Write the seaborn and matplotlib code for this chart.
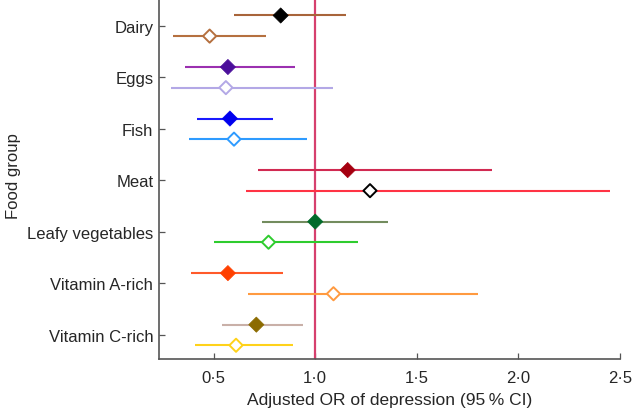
import seaborn as sns
import matplotlib.pyplot as plt
import pandas as pd
import numpy as np

# DATA
groups = ['Dairy', 'Eggs', 'Fish', 'Meat', 'Leafy vegetables', 'Vitamin A-rich', 'Vitamin C-rich']

# filled diamonds (upper row of each group)
or_filled = [0.83, 0.57, 0.58, 1.16, 1.00, 0.57, 0.71]
lo_filled = [0.60, 0.36, 0.42, 0.72, 0.74, 0.39, 0.54]
hi_filled = [1.15, 0.90, 0.79, 1.87, 1.36, 0.84, 0.94]

# open diamonds (lower row of each group)
or_open = [0.48, 0.56, 0.60, 1.27, 0.77, 1.09, 0.61]
lo_open = [0.30, 0.29, 0.38, 0.66, 0.50, 0.67, 0.41]
hi_open = [0.76, 1.09, 0.96, 2.45, 1.21, 1.80, 0.89]

x_ticks = [0.5, 1.0, 1.5, 2.0, 2.5]
x_ticklabels = ['0·5', '1·0', '1·5', '2·0', '2·5']

# colours
line_filled = ['#a8643a', '#9b30b0', '#1a1aff', '#d12a52', '#738c5e', '#ff5a2a', '#c9b0a8']
mark_filled = ['#000000', '#4b0f9b', '#0000ee', '#a50010', '#006b2a', '#ff4000', '#8c6b00']
line_open = ['#b5703f', '#b3a8e6', '#2e9bff', '#ff3344', '#2ecc2e', '#ff9a40', '#ffd21a']
edge_open = ['#b5703f', '#b3a8e6', '#2e9bff', '#000000', '#2ecc2e', '#ff9a40', '#ffd21a']

df = pd.DataFrame({
    'group': groups * 2,
    'OR': or_filled + or_open,
    'lo': lo_filled + lo_open,
    'hi': hi_filled + hi_open,
    'kind': ['filled'] * 7 + ['open'] * 7,
})
idx = np.tile(np.arange(len(groups)), 2)
df['y'] = idx + np.where(df['kind'] == 'filled', -0.2, 0.2)

# VISUALIZATION
sns.set_style('ticks')
plt.rcParams['font.family'] = ['Liberation Sans', 'DejaVu Sans']

fig = plt.figure(figsize=(6.33, 4.14), dpi=100)
ax = fig.add_axes([0.251, 0.13, 0.728, 0.87])

ax.axvline(1.0, color='#d6406e', lw=1.6, zorder=1)

filled = df[df['kind'] == 'filled']
opened = df[df['kind'] == 'open']
ax.hlines(filled['y'], filled['lo'], filled['hi'], colors=line_filled, lw=1.5, zorder=2)
ax.hlines(opened['y'], opened['lo'], opened['hi'], colors=line_open, lw=1.5, zorder=2)

sns.scatterplot(data=filled, x='OR', y='y', marker='D', s=60,
                color=mark_filled, edgecolor=mark_filled, linewidth=0.5, ax=ax, zorder=3)
sns.scatterplot(data=opened, x='OR', y='y', marker='D', s=45,
                facecolor='white', edgecolor=edge_open, linewidth=1.4, ax=ax, zorder=3)

ax.set_xlim(0.23, 2.5)
ax.set_ylim(6.47, -0.52)
ax.set_yticks(range(len(groups)))
ax.set_yticklabels(groups, fontsize=12)
ax.set_xticks(x_ticks)
ax.set_xticklabels(x_ticklabels, fontsize=12)
ax.tick_params(direction='in', length=4, color='#555555', width=0.9)
ax.tick_params(axis='x', pad=8)
ax.tick_params(axis='y', pad=4)

sns.despine(ax=ax)
for s in ['left', 'bottom']:
    ax.spines[s].set_color('#555555')
    ax.spines[s].set_linewidth(1.2)

ax.set_xlabel('Adjusted OR of depression (95\u2009% CI)', fontsize=12.5, labelpad=5)
ax.set_ylabel('Food group', fontsize=12)
ax.yaxis.set_label_coords(-0.30, 0.51)

fig.savefig('out.png', dpi=100)
